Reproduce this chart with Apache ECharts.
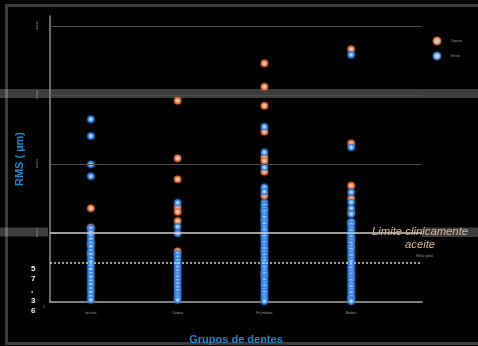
<!DOCTYPE html>
<html>
<head>
<meta charset="utf-8">
<script src="https://cdn.jsdelivr.net/npm/echarts@6/dist/echarts.min.js"></script>
<style>
  html, body { margin: 0; padding: 0; background: #000; }
  #chart { width: 478px; height: 346px; }
</style>
</head>
<body>
<div id="chart"></div>
<script>
// Tooth groups along the x axis
const groups = ['Incisivos', 'Caninos', 'Pré-molares', 'Molares'];

// RMS values (µm) per group, upper arch (orange)
const superiorIncisivos = [135.8, 108, 85, 70];
const superiorCaninos = [291.8, 208.2, 177.8, 137.2, 130.9, 117.4, 73.5];
const superiorPreMolares = [345.9, 312, 284.5, 246.8, 209.7, 204.3, 188.8, 154.1, 133, 118, 97, 75, 40];
const superiorMolares = [366.2, 230, 168.6, 150.3, 129.4, 115, 91, 80, 6];

// RMS values (µm) per group, lower arch (blue)
const inferiorIncisivos = [264.8, 240.6, 199.5, 182.2, 107, 101, 96, 91, 85, 80, 74, 69, 63, 58, 52, 47, 41, 36, 30, 25, 19, 14, 8, 3];
const inferiorCaninos = [143.9, 109.1, 99.5, 70, 65, 60, 55, 50, 45, 40, 36, 31, 26, 21, 16, 11, 7, 3];
const inferiorPreMolares = [254, 217, 195.2, 166.2, 159.9, 144, 140, 135, 131, 126, 122, 117, 113, 108, 104, 99, 95, 90, 86, 81, 77, 72, 68, 63, 59, 54, 50, 45, 41, 36, 32, 27, 23, 18, 14, 9, 5, 1];
const inferiorMolares = [358.5, 224.2, 159, 144.5, 135.8, 127.5, 116, 112, 107, 103, 98, 94, 89, 85, 80, 76, 71, 67, 62, 58, 53, 49, 44, 40, 35, 31, 26, 22, 17, 13, 8, 4, 1];

// Reference levels
const gridLevels = [200, 300, 400];
const clinicalLimit = 100;
const globalMean = 57.36;
const yTicks = [100, 200, 300, 400];

const seriesNames = ['Superior', 'Inferior'];

function toPoints(lists) {
  const pts = [];
  lists.forEach((vals, gi) => vals.forEach(v => pts.push([gi + 1, v])));
  return pts;
}

const superiorData = toPoints([superiorIncisivos, superiorCaninos, superiorPreMolares, superiorMolares]);
const inferiorData = toPoints([inferiorIncisivos, inferiorCaninos, inferiorPreMolares, inferiorMolares]);

const ORANGE = '#e8743c';
const BLUE = '#2f80e0';

const chart = echarts.init(document.getElementById('chart'), null, { renderer: 'canvas' });

const option = {
  backgroundColor: '#000',
  animation: false,
  grid: { left: 50, right: 56, top: 16, bottom: 44, containLabel: false, outerBoundsMode: 'none' },
  legend: {
    orient: 'vertical',
    left: 432.5,
    top: 36.5,
    itemWidth: 17.5,
    itemHeight: 7,
    itemGap: 6,
    icon: 'circle',
    padding: 0,
    textStyle: { color: '#999', fontSize: 3, fontFamily: 'Liberation Sans' },
    data: seriesNames
  },
  xAxis: {
    type: 'value',
    min: 0.529,
    max: 4.816,
    name: 'Grupos de dentes',
    nameLocation: 'middle',
    nameGap: 32,
    nameTextStyle: { color: '#1a86c8', fontSize: 11, fontWeight: 'bold', fontFamily: 'Liberation Sans' },
    axisLine: { show: true, onZero: false, lineStyle: { color: '#a8a8a8', width: 1.5 } },
    axisTick: { show: false },
    splitLine: { show: false },
    axisLabel: {
      customValues: [1, 2, 3, 4],
      formatter: v => groups[Math.round(v) - 1] || '',
      fontSize: 3,
      color: '#999',
      margin: 10,
      fontFamily: 'Liberation Sans'
    }
  },
  yAxis: {
    type: 'value',
    min: 0,
    max: 414.5,
    name: 'RMS ( µm)',
    nameLocation: 'middle',
    nameGap: 25,
    nameTextStyle: { color: '#1a86c8', fontSize: 11, fontWeight: 'bold', fontFamily: 'Liberation Sans' },
    axisLine: { show: true, lineStyle: { color: '#8a8a8a', width: 1.5 } },
    axisTick: { show: false },
    splitLine: { show: false },
    axisLabel: {
      customValues: yTicks,
      formatter: v => String(v).split('').join('\n'),
      fontSize: 3,
      lineHeight: 3,
      color: '#bbb',
      margin: 12,
      padding: [10, 0, 0, 0],
      fontFamily: 'Liberation Sans'
    }
  },
  graphic: [
    // slide frame
    { type: 'rect', z: 0, silent: true, shape: { x: 6.5, y: 5.5, width: 490, height: 338 },
      style: { fill: 'none', stroke: '#3a3a3a', lineWidth: 3 } },
    // translucent highlight bands
    { type: 'rect', z: 0, silent: true, shape: { x: 0, y: 89, width: 478, height: 9 },
      style: { fill: 'rgba(255,255,255,0.24)' } },
    { type: 'rect', z: 0, silent: true, shape: { x: 0, y: 227.5, width: 48, height: 9 },
      style: { fill: 'rgba(255,255,255,0.24)' } },
    { type: 'rect', z: 0, silent: true, shape: { x: 422, y: 227.5, width: 56, height: 9.5 },
      style: { fill: 'rgba(255,255,255,0.24)' } },
    // clinical limit caption
    { type: 'text', z: 10, silent: true, left: 372, top: 226.5,
      style: { text: 'Limite clinicamente', fill: '#d6b595', font: 'italic 11.3px "Liberation Sans"' } },
    { type: 'text', z: 10, silent: true, left: 405, top: 239.5,
      style: { text: 'aceite', fill: '#d6b595', font: 'italic 11.3px "Liberation Sans"' } },
    { type: 'text', z: 10, silent: true, left: 416, top: 255,
      style: { text: 'Média global', fill: '#888', font: '3px "Liberation Sans"' } },
    // origin label
    { type: 'text', z: 10, silent: true, left: 43, top: 306,
      style: { text: '0', fill: '#999', font: '3px "Liberation Sans"' } },
    // global mean value, written vertically
    { type: 'text', z: 10, silent: true, left: 31, top: 263,
      style: { text: '5\n7\n,\n3\n6', fill: '#eee', font: 'bold 8px "Liberation Sans"', lineHeight: 10.7, align: 'center' } }
  ],
  series: [
    {
      name: 'levels',
      type: 'scatter',
      data: [],
      z: 1,
      silent: true,
      markLine: {
        silent: true,
        symbol: 'none',
        label: { show: false },
        animation: false,
        data: [
          ...gridLevels.map(v => ({ yAxis: v, lineStyle: { color: '#4c4c4c', width: 1, type: 'solid' } })),
          { yAxis: clinicalLimit, lineStyle: { color: '#cfcfcf', width: 1.5, type: 'solid' } },
          { yAxis: globalMean, lineStyle: { color: '#cfcfcf', width: 1.5, type: [2, 2] } }
        ]
      }
    },
    {
      name: seriesNames[0],
      type: 'scatter',
      z: 3,
      data: superiorData,
      symbol: 'circle',
      symbolSize: 5.5,
      itemStyle: { color: '#fff', borderColor: ORANGE, borderWidth: 1.6, shadowBlur: 2, shadowColor: ORANGE }
    },
    {
      name: seriesNames[1],
      type: 'scatter',
      z: 4,
      data: inferiorData,
      symbol: 'circle',
      symbolSize: 5.5,
      itemStyle: { color: '#fff', borderColor: BLUE, borderWidth: 1.6, shadowBlur: 2, shadowColor: BLUE }
    }
  ]
};

chart.setOption(option);
</script>
</body>
</html>
